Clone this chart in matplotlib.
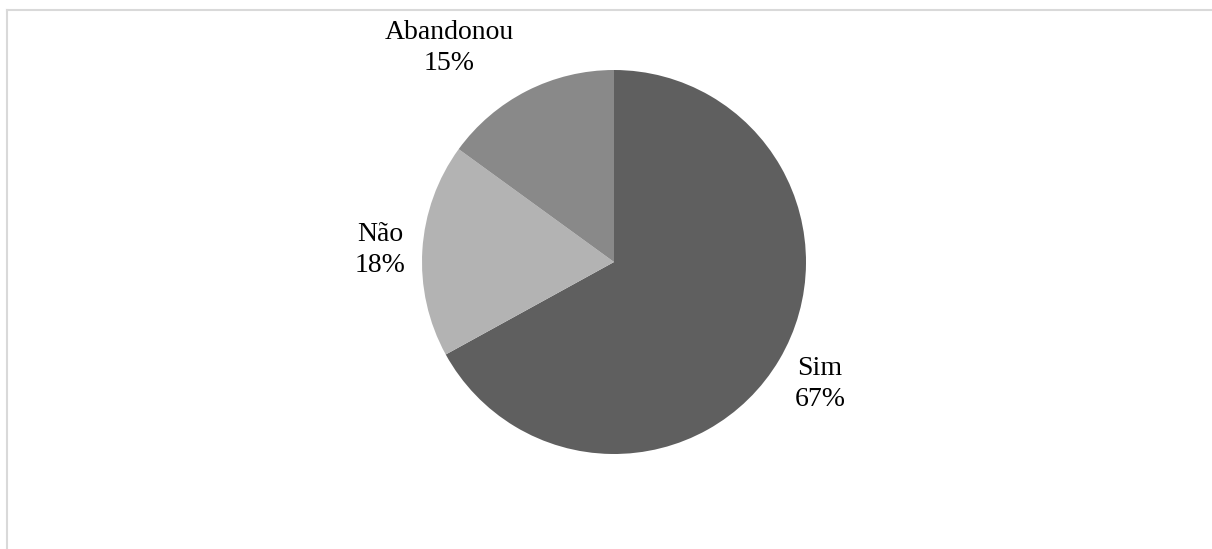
import matplotlib.pyplot as plt
from matplotlib.lines import Line2D

# data
labels = ["Sim", "Não", "Abandonou"]
shares = [67, 18, 15]
colors = ["#5f5f5f", "#b3b3b3", "#898989"]

# label anchor points (pixel coords in the original picture)
label_pos = [(820, 384), (380, 250), (449, 48)]

W, H = 1212, 549
fig = plt.figure(figsize=(W / 100, H / 100), dpi=100)
ax = fig.add_axes([0, 0, 1, 1])

cx, cy, r = 614, H - 262, 192
ax.pie(shares, colors=colors, startangle=90, counterclock=False,
       center=(cx, cy), radius=r, frame=True,
       wedgeprops=dict(linewidth=0))
ax.set_xlim(0, W)
ax.set_ylim(0, H)
ax.set_aspect("equal")
ax.axis("off")

for lab, val, (x, y) in zip(labels, shares, label_pos):
    ax.text(x, H - y, f"{lab}\n{val}%", ha="center", va="center",
            fontsize=20, family="Liberation Serif", linespacing=1.28,
            color="#000000")

# light frame around chart area
fig.add_artist(Line2D([6.5 / W, 6.5 / W], [0, 1 - 9.5 / H],
                      transform=fig.transFigure, color="#d9d9d9", lw=1.5))
fig.add_artist(Line2D([6.5 / W, 1], [1 - 9.5 / H, 1 - 9.5 / H],
                      transform=fig.transFigure, color="#d9d9d9", lw=1.5))

fig.savefig("out.png", dpi=100)
